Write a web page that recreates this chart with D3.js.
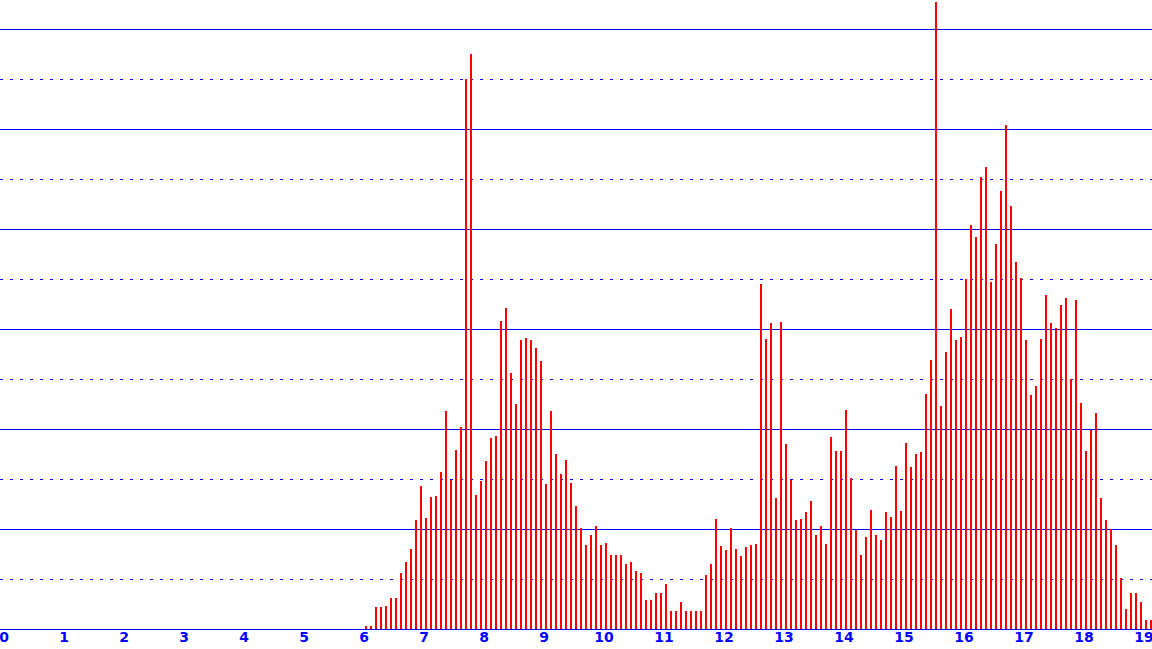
<!DOCTYPE html>
<html>
<head>
<meta charset="utf-8">
<script src="https://cdn.jsdelivr.net/npm/d3@7"></script>
<style>
  html, body { margin: 0; padding: 0; background: #fff; overflow: hidden; }
  svg { display: block; }
</style>
</head>
<body>
<svg id="chart" width="1152" height="649"></svg>
<script>
// ---- data ----
const binStart = 6;          // first bin value
const binsPerUnit = 12;      // bins per x unit
const values = [
  0.06, 0.06, 0.44, 0.44, 0.46, 0.62, 0.62, 1.13, 1.34, 1.60, 2.18, 2.86,
  2.23, 2.64, 2.66, 3.14, 4.36, 2.99, 3.58, 4.04, 11.00, 11.50, 2.68, 2.96,
  3.37, 3.82, 3.86, 6.16, 6.42, 5.12, 4.50, 5.78, 5.82, 5.78, 5.62, 5.36,
  2.90, 4.36, 3.50, 3.10, 3.38, 2.92, 2.46, 2.02, 1.68, 1.88, 2.06, 1.68,
  1.72, 1.48, 1.48, 1.48, 1.30, 1.34, 1.16, 1.12, 0.58, 0.58, 0.72, 0.72,
  0.90, 0.37, 0.37, 0.54, 0.37, 0.37, 0.37, 0.37, 1.08, 1.30, 2.20, 1.66,
  1.58, 2.02, 1.60, 1.46, 1.64, 1.68, 1.70, 6.90, 5.80, 6.12, 2.62, 6.14,
  3.70, 2.99, 2.18, 2.20, 2.34, 2.56, 1.88, 2.06, 1.70, 3.84, 3.56, 3.56,
  4.38, 3.02, 1.98, 1.48, 1.84, 2.38, 1.88, 1.78, 2.34, 2.24, 3.26, 2.36,
  3.72, 3.24, 3.50, 3.54, 4.70, 5.38, 12.54, 4.46, 5.54, 6.40, 5.78, 5.84,
  7.00, 8.08, 7.84, 9.04, 9.25, 6.94, 7.70, 8.77, 10.08, 8.47, 7.34, 7.03,
  5.79, 4.68, 4.87, 5.81, 6.69, 6.13, 6.03, 6.48, 6.62, 5.00, 6.59, 4.53,
  3.56, 3.98, 4.33, 2.63, 2.18, 2.00, 1.69, 1.03, 0.41, 0.73, 0.73, 0.55,
  0.19, 0.19
];
const xTicks = d3.range(0, 20);
const solidGrid = [2, 4, 6, 8, 10, 12];
const dottedGrid = [1, 3, 5, 7, 9, 11];

// ---- layout ----
const W = 1152, H = 649;
const baseY = 629;
const x = d3.scaleLinear().domain([0, 19]).range([4, 1144]);
const y = d3.scaleLinear().domain([0, 12.58]).range([baseY, 0]);

const svg = d3.select("#chart");
svg.append("rect").attr("width", W).attr("height", H).attr("fill", "#fff");

const gridColor = "#0000ff";

// dotted grid
svg.append("g").selectAll("line").data(dottedGrid).join("line")
  .attr("x1", 0).attr("x2", W)
  .attr("y1", d => Math.round(y(d)) + 0.5).attr("y2", d => Math.round(y(d)) + 0.5)
  .attr("stroke", gridColor).attr("stroke-width", 1)
  .attr("stroke-dasharray", "3,7")
  .attr("shape-rendering", "crispEdges");

// solid grid
svg.append("g").selectAll("line").data(solidGrid).join("line")
  .attr("x1", 0).attr("x2", W)
  .attr("y1", d => Math.round(y(d)) + 0.5).attr("y2", d => Math.round(y(d)) + 0.5)
  .attr("stroke", gridColor).attr("stroke-width", 1)
  .attr("shape-rendering", "crispEdges");

// bars
svg.append("g").selectAll("rect").data(values).join("rect")
  .attr("x", (d, i) => Math.round(x(binStart + i / binsPerUnit)) + 1)
  .attr("width", 2)
  .attr("y", d => y(d))
  .attr("height", d => baseY - y(d))
  .attr("fill", "#ff0000")
  .attr("shape-rendering", "crispEdges");

// baseline
svg.append("line")
  .attr("x1", 0).attr("x2", W)
  .attr("y1", baseY + 0.5).attr("y2", baseY + 0.5)
  .attr("stroke", gridColor).attr("stroke-width", 1)
  .attr("shape-rendering", "crispEdges");

// x axis labels
svg.append("g").selectAll("text").data(xTicks).join("text")
  .attr("x", d => x(d))
  .attr("y", 642)
  .attr("text-anchor", "middle")
  .attr("fill", gridColor)
  .attr("font-family", "'DejaVu Sans', sans-serif")
  .attr("font-weight", "bold")
  .attr("font-size", 14)
  .text(d => d);
</script>
</body>
</html>
